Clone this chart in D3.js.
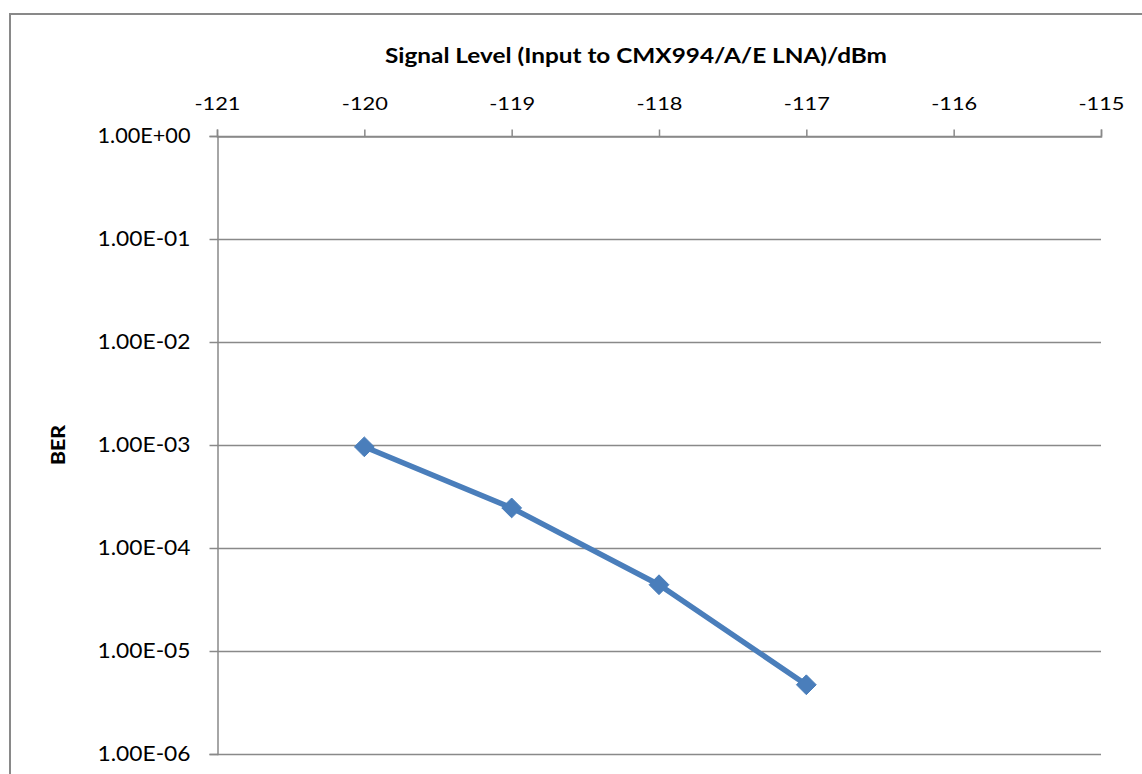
<!DOCTYPE html>
<html>
<head>
<meta charset="utf-8">
<script src="https://cdn.jsdelivr.net/npm/d3@7"></script>
<style>
  html, body { margin: 0; padding: 0; background: #fff; }
  svg { display: block; }
</style>
</head>
<body>
<svg id="chart" width="1142" height="774"></svg>
<script>
// ---- data ----
const signalLevels = [-120, -119, -118, -117];
const berValues = [9.6e-4, 2.45e-4, 4.4e-5, 4.7e-6];
const xTicks = [-121, -120, -119, -118, -117, -116, -115];
const yTicks = [1, 1e-1, 1e-2, 1e-3, 1e-4, 1e-5, 1e-6];
const xTitle = "Signal Level (Input to CMX994/A/E LNA)/dBm";
const yTitle = "BER";

(function () {
const svg = d3.select("#chart");
const pLeft = 217, pRight = 1101, pTop = 136, pBottom = 754;
const gridColor = "#898989";
const lineColor = "#4a7ebb";
const font = "Lato, 'Open Sans', sans-serif";

// outer chart border
svg.append("rect")
  .attr("x", 10).attr("y", 14)
  .attr("width", 1150).attr("height", 800)
  .attr("fill", "#fff")
  .attr("stroke", gridColor).attr("stroke-width", 2);

const x = d3.scaleLinear().domain([-121, -115]).range([pLeft, pRight]);
const y = d3.scaleLog().domain([1e-6, 1]).range([pBottom, pTop]);

function fmtE(v) {
  const e = Math.round(Math.log10(v));
  const sign = e >= 0 ? "+" : "-";
  const a = Math.abs(e);
  return "1.00E" + sign + (a < 10 ? "0" + a : a);
}

// horizontal gridlines
svg.append("g").selectAll("line").data(yTicks).join("line")
  .attr("x1", pLeft).attr("x2", pRight)
  .attr("y1", d => Math.round(y(d)) + 0.5).attr("y2", d => Math.round(y(d)) + 0.5)
  .attr("stroke", gridColor).attr("stroke-width", 1.5);

// x axis on top
const xAxis = d3.axisTop(x).tickValues(xTicks).tickSize(7).tickPadding(19.5)
  .tickFormat(d => "-" + Math.abs(d));
const gx = svg.append("g").attr("transform", `translate(0,${Math.round(y(1)) + 0.5})`).call(xAxis);
gx.select(".domain").attr("stroke", gridColor).attr("stroke-width", 1.5);
gx.selectAll(".tick line").attr("stroke", gridColor).attr("stroke-width", 1.5);
gx.selectAll(".tick text")
  .attr("font-family", font).attr("font-size", 18).attr("fill", "#000")
  .attr("textLength", 46).attr("lengthAdjust", "spacingAndGlyphs");

// y axis on left
const yAxis = d3.axisLeft(y).tickValues(yTicks).tickSize(8).tickPadding(19)
  .tickFormat(fmtE);
const gy = svg.append("g").attr("transform", `translate(${pLeft + 0.5},0)`).call(yAxis);
gy.select(".domain").attr("stroke", gridColor).attr("stroke-width", 1.5);
gy.selectAll(".tick line").attr("stroke", gridColor).attr("stroke-width", 1.5);
gy.selectAll(".tick text")
  .attr("font-family", font).attr("font-size", 21).attr("fill", "#000")
  .attr("textLength", 93).attr("lengthAdjust", "spacingAndGlyphs");

// axis titles
svg.append("text")
  .attr("x", 636).attr("y", 63)
  .attr("text-anchor", "middle")
  .attr("font-family", font).attr("font-weight", "bold").attr("font-size", 21)
  .attr("fill", "#000")
  .attr("textLength", 502).attr("lengthAdjust", "spacingAndGlyphs")
  .text(xTitle);

svg.append("text")
  .attr("transform", "translate(65,445) rotate(-90)")
  .attr("text-anchor", "middle")
  .attr("font-family", font).attr("font-weight", "900").attr("font-size", 18)
  .attr("fill", "#000")
  .attr("textLength", 40).attr("lengthAdjust", "spacingAndGlyphs")
  .text(yTitle);

// data line
const pts = signalLevels.map((s, i) => ({ s, v: berValues[i] }));
svg.append("path")
  .datum(pts)
  .attr("fill", "none")
  .attr("stroke", lineColor)
  .attr("stroke-width", 5.5)
  .attr("stroke-linejoin", "round")
  .attr("d", d3.line().x(d => x(d.s)).y(d => y(d.v)));

// diamond markers
const diamond = d3.symbol().type(d3.symbolDiamond2).size(250);
svg.append("g").selectAll("path").data(pts).join("path")
  .attr("transform", d => `translate(${x(d.s)},${y(d.v)})`)
  .attr("d", diamond)
  .attr("fill", lineColor)
  .attr("stroke", lineColor).attr("stroke-width", 1);
})();
</script>
</body>
</html>
